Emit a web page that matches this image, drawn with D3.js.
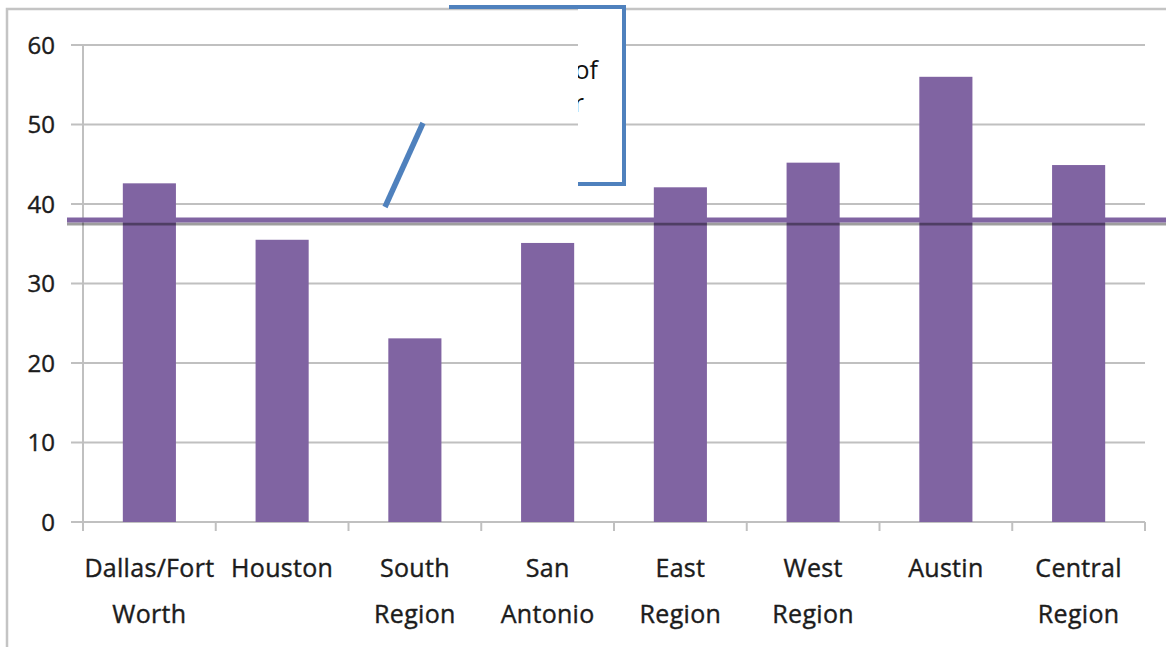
<!DOCTYPE html>
<html>
<head>
<meta charset="utf-8">
<script src="https://cdn.jsdelivr.net/npm/d3@7"></script>
<style>
  body { margin: 0; background: #fff; }
  svg { display: block; font-family: "Open Sans", "Noto Sans", sans-serif; }
</style>
</head>
<body>
<div id="chart"></div>
<script>
// Data
const regions = ["Dallas/Fort Worth", "Houston", "South Region", "San Antonio",
                 "East Region", "West Region", "Austin", "Central Region"];
const labelLines = [["Dallas/Fort", "Worth"], ["Houston"], ["South", "Region"], ["San", "Antonio"],
                    ["East", "Region"], ["West", "Region"], ["Austin"], ["Central", "Region"]];
const values = [42.6, 35.5, 23.1, 35.1, 42.1, 45.2, 56.0, 44.9];
const averageValue = 38;
const yTicks = [0, 10, 20, 30, 40, 50, 60];
const calloutLines = ["Statewide average of", "all regions for"];

const width = 1166;
const height = 647;
const marginLeft = 83, marginRight = 21, marginTop = 45, marginBottom = 125;

const svg = d3.select("#chart").append("svg")
    .attr("width", width)
    .attr("height", height)
    .attr("viewBox", [0, 0, width, height]);

// Scales
const x = d3.scaleBand()
    .domain(regions)
    .range([marginLeft, width - marginRight])
    .paddingInner(0.6)
    .paddingOuter(0.3);

const y = d3.scaleLinear()
    .domain([0, 60])
    .range([height - marginBottom, marginTop]);

const gridColor = "#c0c0c0";
const textColor = "#1c1c1c";

// Outer frame (left and top edges)
svg.append("path")
    .attr("d", `M7,${height} V9 H${width}`)
    .attr("fill", "none")
    .attr("stroke", "#c4c4c4")
    .attr("stroke-width", 2.5);

// Gridlines + y tick stubs
svg.append("g")
    .selectAll("line")
    .data(yTicks)
    .join("line")
    .attr("x1", marginLeft - 12)
    .attr("x2", width - marginRight)
    .attr("y1", d => y(d))
    .attr("y2", d => y(d))
    .attr("stroke", gridColor)
    .attr("stroke-width", 2);

// y axis line
svg.append("line")
    .attr("x1", marginLeft).attr("x2", marginLeft)
    .attr("y1", y(60)).attr("y2", y(0) + 9)
    .attr("stroke", gridColor)
    .attr("stroke-width", 2);

// x tick marks at category boundaries
const step = x.step();
const boundaries = d3.range(regions.length + 1).map(i => marginLeft + i * step);
svg.append("g")
    .selectAll("line")
    .data(boundaries.slice(1))
    .join("line")
    .attr("x1", d => d).attr("x2", d => d)
    .attr("y1", y(0)).attr("y2", y(0) + 9)
    .attr("stroke", gridColor)
    .attr("stroke-width", 2);

// y tick labels
svg.append("g")
    .selectAll("text")
    .data(yTicks)
    .join("text")
    .attr("x", 55)
    .attr("y", d => y(d))
    .attr("dy", "0.36em")
    .attr("text-anchor", "end")
    .attr("font-size", 24)
    .attr("fill", textColor)
    .attr("stroke", textColor)
    .attr("stroke-width", 0.4)
    .text(d => d);

// Bars
svg.append("g")
    .selectAll("rect")
    .data(values)
    .join("rect")
    .attr("x", (d, i) => x(regions[i]))
    .attr("width", x.bandwidth())
    .attr("y", d => y(d))
    .attr("height", d => y(0) - y(d))
    .attr("fill", "#8064A2");

// Average line with its shadow
svg.append("line")
    .attr("x1", 67).attr("x2", width)
    .attr("y1", y(averageValue) + 4).attr("y2", y(averageValue) + 4)
    .attr("stroke", "#000")
    .attr("stroke-opacity", 0.38)
    .attr("stroke-width", 3);

svg.append("line")
    .attr("x1", 67).attr("x2", width)
    .attr("y1", y(averageValue)).attr("y2", y(averageValue))
    .attr("stroke", "#8064A2")
    .attr("stroke-width", 5);

// x labels (two lines)
const labels = svg.append("g")
    .selectAll("text")
    .data(labelLines)
    .join("text")
    .attr("text-anchor", "middle")
    .attr("font-size", 25)
    .attr("letter-spacing", 0.3)
    .attr("fill", textColor)
    .attr("stroke", textColor)
    .attr("stroke-width", 0.4);

labels.selectAll("tspan")
    .data((d, i) => d.map(t => ({t, i})))
    .join("tspan")
    .attr("x", d => x(regions[d.i]) + x.bandwidth() / 2)
    .attr("y", (d, j) => 577 + j * 46)
    .text(d => d.t);

// Callout (mostly cut off in the original)
svg.append("defs").append("clipPath")
    .attr("id", "callout-clip")
    .append("rect")
    .attr("x", 578).attr("y", 9)
    .attr("width", 44).attr("height", 173);

svg.append("rect")
    .attr("x", 578).attr("y", 9)
    .attr("width", 44).attr("height", 173)
    .attr("fill", "#fff");

svg.append("g")
    .attr("clip-path", "url(#callout-clip)")
    .selectAll("text")
    .data(calloutLines)
    .join("text")
    .attr("x", (d, i) => i === 0 ? 598 : 584)
    .attr("y", (d, i) => 79 + i * 33)
    .attr("text-anchor", "end")
    .attr("font-size", 25)
    .attr("fill", "#111")
    .text(d => d);

svg.append("path")
    .attr("d", "M449,7 H624 V184 H578")
    .attr("fill", "none")
    .attr("stroke", "#4F81BD")
    .attr("stroke-width", 4);

// Callout pointer
svg.append("line")
    .attr("x1", 385).attr("y1", 207)
    .attr("x2", 423).attr("y2", 123)
    .attr("stroke", "#4F81BD")
    .attr("stroke-width", 5.5);
</script>
</body>
</html>
